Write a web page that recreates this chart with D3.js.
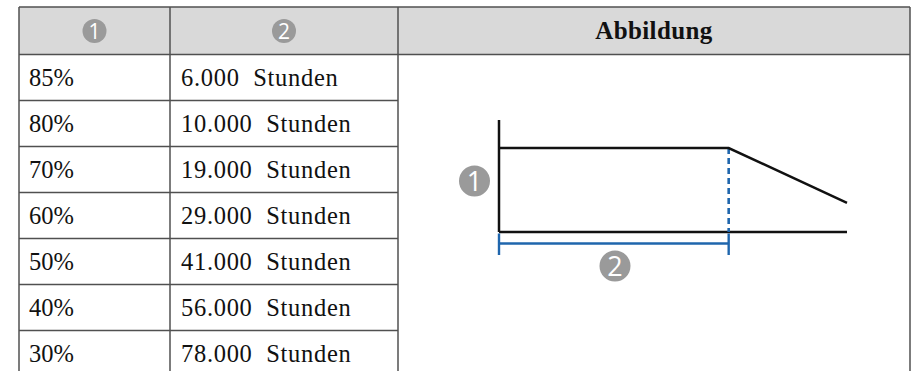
<!DOCTYPE html>
<html>
<head>
<meta charset="utf-8">
<script src="https://cdn.jsdelivr.net/npm/d3@7"></script>
<style>
  html, body { margin: 0; padding: 0; background: #ffffff; }
  svg { display: block; }
</style>
</head>
<body>
<div id="chart"></div>
<script>
// ---- data ----
const levels = ["85%", "80%", "70%", "60%", "50%", "40%", "30%"];
const hours = [6000, 10000, 19000, 29000, 41000, 56000, 78000];
const unit = "Stunden";
const headerMarkers = ["1", "2"];
const headerTitle = "Abbildung";
// schematic curve of the figure (relative units: time, brightness)
const curveTime = [0, 66, 100];
const curveBrightness = [75, 75, 26];
const markerTime = 66;

// ---- layout ----
const W = 912, H = 371;
const svg = d3.select("#chart").append("svg").attr("width", W).attr("height", H);

const colEdges = [19, 170, 398, 910];
const tableTop = 7, headerBottom = 54.5, rowH = 46;
const border = "#505050";
const fmt = d3.formatLocale({decimal: ",", thousands: ".", grouping: [3], currency: ["", "€"]}).format(",d");

const rowScale = d3.scaleBand().domain(d3.range(levels.length))
  .range([headerBottom, headerBottom + rowH * levels.length]).padding(0);

// header background
svg.append("rect").attr("x", colEdges[0]).attr("y", tableTop)
  .attr("width", colEdges[3] - colEdges[0]).attr("height", headerBottom - tableTop)
  .attr("fill", "#d9d9d9");

// row text
const rows = svg.append("g").selectAll("g").data(levels).join("g")
  .attr("transform", (d, i) => `translate(0,${rowScale(i)})`);
rows.append("text").attr("x", colEdges[0] + 10).attr("y", rowH / 2 + 8.5)
  .attr("font-family", "'Liberation Serif', serif").attr("font-size", 24.5).attr("fill", "#111")
  .text(d => d);
rows.append("text").attr("x", colEdges[1] + 11).attr("y", rowH / 2 + 8.5)
  .attr("font-family", "'Liberation Serif', serif").attr("font-size", 24.5).attr("fill", "#111")
  .attr("letter-spacing", 0.7)
  .style("white-space", "pre")
  .text((d, i) => fmt(hours[i]) + "\u00a0\u00a0" + unit);

// grid lines
const grid = svg.append("g").attr("stroke", border).attr("stroke-width", 1.5).attr("fill", "none");
grid.append("line").attr("x1", colEdges[0]).attr("x2", colEdges[3]).attr("y1", tableTop).attr("y2", tableTop);
grid.append("line").attr("x1", colEdges[0]).attr("x2", colEdges[3]).attr("y1", headerBottom).attr("y2", headerBottom);
grid.selectAll("line.sep").data(d3.range(1, levels.length + 1)).join("line").attr("class", "sep")
  .attr("x1", colEdges[0]).attr("x2", colEdges[2])
  .attr("y1", i => rowScale(i - 1) + rowH).attr("y2", i => rowScale(i - 1) + rowH);
grid.selectAll("line.v").data(colEdges).join("line").attr("class", "v")
  .attr("x1", d => d).attr("x2", d => d).attr("y1", tableTop).attr("y2", H + 10);

// header markers
const markerColor = "#9a9a9a";
headerMarkers.forEach((m, i) => {
  const cx = (colEdges[i] + colEdges[i + 1]) / 2;
  svg.append("circle").attr("cx", cx).attr("cy", 31).attr("r", 12).attr("fill", markerColor);
  svg.append("text").attr("x", cx).attr("y", 31).attr("dy", "0.36em").attr("text-anchor", "middle")
    .attr("font-family", "'Open Sans', sans-serif").attr("font-size", 21).attr("fill", "#fff").text(m);
});
svg.append("text").attr("x", (colEdges[2] + colEdges[3]) / 2).attr("y", 38.5).attr("text-anchor", "middle")
  .attr("font-family", "'Liberation Serif', serif").attr("font-weight", "bold").attr("font-size", 25)
  .attr("letter-spacing", 0.4)
  .attr("fill", "#111").text(headerTitle);

// ---- figure ----
const x = d3.scaleLinear().domain([0, 100]).range([499, 847]);
const y = d3.scaleLinear().domain([0, 100]).range([232, 120]);
const fig = svg.append("g");
const blue = "#1f66ad";

fig.append("line").attr("x1", x(0)).attr("x2", x(0)).attr("y1", y(100)).attr("y2", y(0))
  .attr("stroke", "#111").attr("stroke-width", 2.5);
fig.append("line").attr("x1", x(0)).attr("x2", x(100)).attr("y1", y(0)).attr("y2", y(0))
  .attr("stroke", "#111").attr("stroke-width", 2.5);

fig.append("line").attr("x1", x(markerTime)).attr("x2", x(markerTime))
  .attr("y1", y(curveBrightness[1])).attr("y2", y(0))
  .attr("stroke", blue).attr("stroke-width", 2.6).attr("stroke-dasharray", "6,4");

const line = d3.line().x(d => x(d[0])).y(d => y(d[1]));
fig.append("path").datum(curveTime.map((t, i) => [t, curveBrightness[i]]))
  .attr("d", line).attr("fill", "none").attr("stroke", "#111").attr("stroke-width", 2.5);

const by = y(0) + 11.5;
fig.append("line").attr("x1", x(0)).attr("x2", x(markerTime)).attr("y1", by).attr("y2", by)
  .attr("stroke", blue).attr("stroke-width", 2.5);
[0, markerTime].forEach(t => {
  fig.append("line").attr("x1", x(t)).attr("x2", x(t)).attr("y1", y(0) + 1.5).attr("y2", y(0) + 23)
    .attr("stroke", blue).attr("stroke-width", 2.4);
});

const figMarkers = [{label: "1", cx: 474.5, cy: 181}, {label: "2", cx: 615, cy: 266}];
figMarkers.forEach(m => {
  fig.append("circle").attr("cx", m.cx).attr("cy", m.cy).attr("r", 15.5).attr("fill", markerColor);
  fig.append("text").attr("x", m.cx).attr("y", m.cy).attr("dy", "0.36em").attr("text-anchor", "middle")
    .attr("font-family", "'Open Sans', sans-serif").attr("font-size", 27).attr("fill", "#fff").text(m.label);
});
</script>
</body>
</html>
